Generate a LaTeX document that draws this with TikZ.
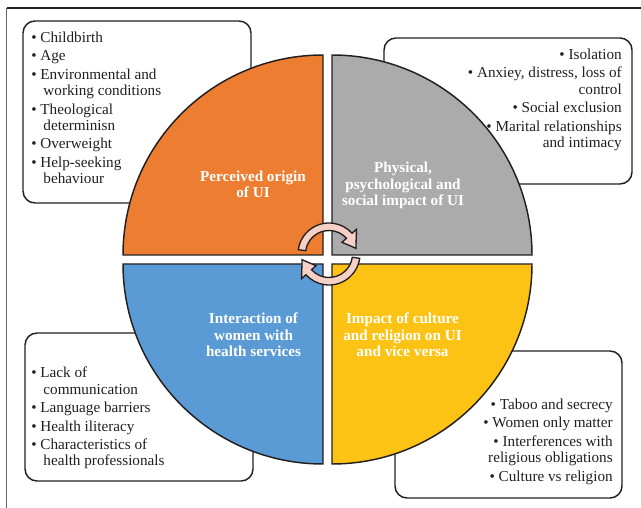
\documentclass[tikz,border=0pt]{standalone}
\usepackage{fontspec}
\setmainfont{Liberation Serif}
\definecolor{qorange}{HTML}{ED7D31}
\definecolor{qgray}{HTML}{ABABAB}
\definecolor{qblue}{HTML}{5B9BD5}
\definecolor{qyellow}{HTML}{FCC314}
\definecolor{apink}{HTML}{F6D0C6}
\definecolor{edge}{HTML}{231F20}
\begin{document}
\begin{tikzpicture}[x=0.75pt,y=0.75pt,
  listbox/.style={draw=edge, line width=1.1pt, rounded corners=9pt, fill=white},
  quad/.style={draw=edge, line width=1.1pt},
  itemtext/.style={inner sep=0pt, font=\fontsize{11.4}{12.6}\selectfont, text=edge},
  qlabel/.style={inner sep=0pt, align=center, text=white, font=\fontsize{11.4}{12.4}\selectfont\bfseries},
  cyc/.style={draw=edge, fill=apink, line width=1pt, line join=miter}]
\useasboundingbox (0,0) rectangle (641,507);
% frame
\draw[black!60, line width=1.4pt] (6.5,-10) -- (6.5,499);
\draw[edge, line width=0.8pt] (6.5,499) -- (660,499);
% list boxes
\draw[listbox] (23,486) rectangle (251,304);
\draw[listbox] (384,469) rectangle (632,323);
\draw[listbox] (25,174) rectangle (253,26);
\draw[listbox] (395,156) rectangle (622,9);
% quadrants
\draw[quad, fill=qorange] (323,252) -- (123,252) arc[start angle=180, end angle=90, radius=200] -- cycle;
\draw[quad, fill=qgray] (332,252) -- (332,452) arc[start angle=90, end angle=0, radius=200] -- cycle;
\draw[quad, fill=qblue] (323,243) -- (323,43) arc[start angle=270, end angle=180, radius=200] -- cycle;
\draw[quad, fill=qyellow] (332,243) -- (532,243) arc[start angle=0, end angle=-90, radius=200] -- cycle;
% labels
\node[qlabel] (lo) at (253,322.5) {Perceived origin\\of UI};
\node[qlabel] (lg) at (403,321.5) {Physical,\\psychological and\\social impact of UI};
\node[qlabel] (lb) at (253.5,172) {Interaction of\\women with\\health services};
\node[qlabel] (ly) at (402.5,172) {Impact of culture\\and religion on UI\\and vice versa};
% cycle arrows
\begin{scope}[shift={(329,253)}]
\draw[cyc] (172:31) arc[start angle=172, end angle=42, radius=31] -- (42:37) -- (12:27.5) -- (42:17.5) -- (42:23.5) arc[start angle=42, end angle=172, radius=23.5] -- cycle;
\draw[cyc] (352:31) arc[start angle=352, end angle=222, radius=31] -- (222:37) -- (192:27.5) -- (222:17.5) -- (222:23.5) arc[start angle=222, end angle=352, radius=23.5] -- cycle;
\end{scope}
% list texts
\node[itemtext, anchor=north west, align=left] (tl) at (31,475) {%
• Childbirth\\[1pt]
• Age\\[1pt]
• Environmental and\\
\hspace*{0.8em}working conditions\\[1pt]
• Theological\\
\hspace*{0.8em}determinisn\\[1pt]
• Overweight\\[1pt]
• Help-seeking\\
\hspace*{0.8em}behaviour};
\node[itemtext, anchor=north east, align=right] (tr) at (622,458) {%
• Isolation\\[1pt]
• Anxiey, distress, loss of\\
control\\[1pt]
• Social exclusion\\[1pt]
• Marital relationships\\
and intimacy};
\node[itemtext, anchor=north west, align=left] (bl) at (31,140) {%
• Lack of\\
\hspace*{0.8em}communication\\[1pt]
• Language barriers\\[1pt]
• Health iliteracy\\[1pt]
• Characteristics of\\
\hspace*{0.8em}health professionals};
\node[itemtext, anchor=north east, align=right] (br) at (613,108) {%
• Taboo and secrecy\\[1pt]
• Women only matter\\[1pt]
• Interferences with\\
religious obligations\\[1pt]
• Culture vs religion};
\end{tikzpicture}
\end{document}
